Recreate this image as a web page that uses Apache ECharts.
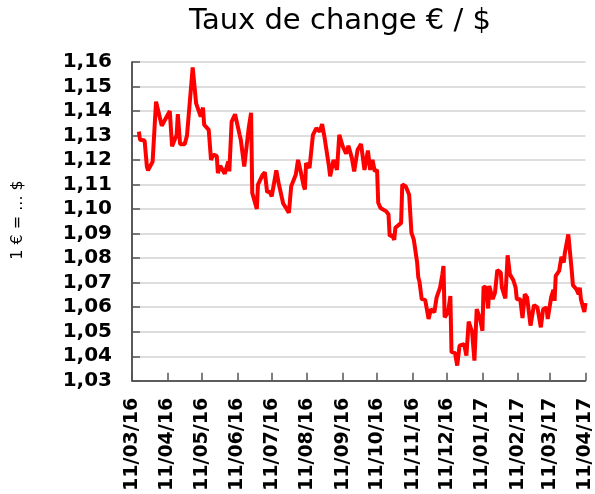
<!DOCTYPE html>
<html lang="fr">
<head>
    <meta charset="UTF-8">
    <title>Taux de change € / $</title>
    <script src="https://cdn.jsdelivr.net/npm/echarts@6.0.0/dist/echarts.min.js"></script>
    <style>
        html, body { margin: 0; padding: 0; background: #fff; }
        #chart { width: 595px; height: 494px; }
    </style>
</head>
<body>
<div id="chart"></div>
<script>
    // données
    var dates = [
        '2016-03-17', '2016-03-18', '2016-03-22', '2016-03-24', '2016-03-25', '2016-03-29', '2016-04-01', '2016-04-06',
        '2016-04-13', '2016-04-15', '2016-04-19', '2016-04-20', '2016-04-22', '2016-04-26', '2016-04-28', '2016-05-03',
        '2016-05-06', '2016-05-10', '2016-05-12', '2016-05-13', '2016-05-17', '2016-05-19', '2016-05-21', '2016-05-24',
        '2016-05-25', '2016-05-27', '2016-05-31', '2016-06-03', '2016-06-04', '2016-06-06', '2016-06-09', '2016-06-13',
        '2016-06-14', '2016-06-17', '2016-06-21', '2016-06-23', '2016-06-24', '2016-06-28', '2016-06-29', '2016-07-03',
        '2016-07-05', '2016-07-07', '2016-07-09', '2016-07-11', '2016-07-15', '2016-07-17', '2016-07-21', '2016-07-24',
        '2016-07-26', '2016-07-28', '2016-08-01', '2016-08-03', '2016-08-05', '2016-08-08', '2016-08-09', '2016-08-10',
        '2016-08-13', '2016-08-16', '2016-08-19', '2016-08-22', '2016-08-24', '2016-08-26', '2016-08-30', '2016-08-31',
        '2016-09-03', '2016-09-06', '2016-09-08', '2016-09-11', '2016-09-14', '2016-09-16', '2016-09-19', '2016-09-21',
        '2016-09-24', '2016-09-27', '2016-09-30', '2016-10-03', '2016-10-05', '2016-10-07', '2016-10-09', '2016-10-11',
        '2016-10-12', '2016-10-14', '2016-10-19', '2016-10-21', '2016-10-22', '2016-10-24', '2016-10-26', '2016-10-27',
        '2016-11-01', '2016-11-02', '2016-11-05', '2016-11-08', '2016-11-10', '2016-11-12', '2016-11-15', '2016-11-16',
        '2016-11-17', '2016-11-19', '2016-11-22', '2016-11-25', '2016-11-27', '2016-11-30', '2016-12-02', '2016-12-05',
        '2016-12-07', '2016-12-08', '2016-12-09', '2016-12-12', '2016-12-14', '2016-12-15', '2016-12-18', '2016-12-20',
        '2016-12-22', '2016-12-26', '2016-12-28', '2016-12-30', '2017-01-02', '2017-01-04', '2017-01-06', '2017-01-09',
        '2017-01-11', '2017-01-12', '2017-01-14', '2017-01-16', '2017-01-17', '2017-01-20', '2017-01-22', '2017-01-24',
        '2017-01-27', '2017-01-28', '2017-01-31', '2017-02-02', '2017-02-04', '2017-02-07', '2017-02-09', '2017-02-10',
        '2017-02-13', '2017-02-15', '2017-02-17', '2017-02-19', '2017-02-22', '2017-02-23', '2017-02-25', '2017-02-28',
        '2017-03-01', '2017-03-03', '2017-03-05', '2017-03-08', '2017-03-09', '2017-03-12', '2017-03-14', '2017-03-15',
        '2017-03-16', '2017-03-19', '2017-03-21', '2017-03-23', '2017-03-24', '2017-03-27', '2017-03-30', '2017-03-31',
        '2017-04-03', '2017-04-05', '2017-04-06', '2017-04-07', '2017-04-10', '2017-04-11'
    ];
    var rates = [
        1.1316, 1.1283, 1.1280, 1.1174, 1.1158, 1.1194, 1.1438, 1.1340,
        1.1400, 1.1256, 1.1303, 1.1387, 1.1265, 1.1265, 1.1299, 1.1578,
        1.1431, 1.1377, 1.1414, 1.1344, 1.1323, 1.1201, 1.1222, 1.1217,
        1.1147, 1.1177, 1.1144, 1.1194, 1.1154, 1.1357, 1.1387, 1.1303,
        1.1283, 1.1174, 1.1334, 1.1393, 1.1066, 1.1001, 1.1100, 1.1140,
        1.1150, 1.1069, 1.1073, 1.1052, 1.1158, 1.1107, 1.1023, 1.1001,
        1.0985, 1.1093, 1.1140, 1.1201, 1.1160, 1.1093, 1.1080, 1.1188,
        1.1168, 1.1303, 1.1330, 1.1316, 1.1347, 1.1296, 1.1174, 1.1134,
        1.1201, 1.1160, 1.1303, 1.1256, 1.1226, 1.1258, 1.1208, 1.1154,
        1.1242, 1.1266, 1.1160, 1.1239, 1.1160, 1.1201, 1.1154, 1.1160,
        1.1026, 1.1005, 1.0991, 1.0978, 1.0890, 1.0895, 1.0875, 1.0924,
        1.0944, 1.1100, 1.1093, 1.1059, 1.0904, 1.0877, 1.0782, 1.0721,
        1.0705, 1.0633, 1.0630, 1.0552, 1.0592, 1.0579, 1.0640, 1.0680,
        1.0734, 1.0768, 1.0559, 1.0579, 1.0646, 1.0417, 1.0414, 1.0362,
        1.0443, 1.0450, 1.0403, 1.0541, 1.0498, 1.0382, 1.0592, 1.0552,
        1.0504, 1.0684, 1.0680, 1.0595, 1.0687, 1.0633, 1.0660, 1.0752,
        1.0741, 1.0680, 1.0636, 1.0812, 1.0734, 1.0710, 1.0680, 1.0633,
        1.0633, 1.0556, 1.0653, 1.0640, 1.0525, 1.0520, 1.0609, 1.0599,
        1.0603, 1.0518, 1.0592, 1.0599, 1.0552, 1.0640, 1.0671, 1.0626,
        1.0728, 1.0748, 1.0806, 1.0782, 1.0823, 1.0897, 1.0748, 1.0690,
        1.0674, 1.0653, 1.0680, 1.0633, 1.0581, 1.0617
    ];
    // graduations de l'axe des dates (le 11 de chaque mois)
    var tickDates = [
        '2016-03-11', '2016-04-11', '2016-05-11', '2016-06-11', '2016-07-11', '2016-08-11', '2016-09-11',
        '2016-10-11', '2016-11-11', '2016-12-11', '2017-01-11', '2017-02-11', '2017-03-11', '2017-04-11'
    ];
    var yMin = 1.03, yMax = 1.16, yStep = 0.01;

    function toTime(s) {
        var p = s.split('-');
        return Date.UTC(+p[0], +p[1] - 1, +p[2]);
    }
    function pad(n) { return (n < 10 ? '0' : '') + n; }

    var tickTimes = tickDates.map(toTime);
    var seriesData = dates.map(function (d, i) { return [toTime(d), rates[i]]; });

    var chart = echarts.init(document.getElementById('chart'), null, {renderer: 'canvas'});
    chart.setOption({
        animation: false,
        backgroundColor: '#ffffff',
        textStyle: {fontFamily: 'DejaVu Sans'},
        title: {
            text: 'Taux de change € / $',
            left: 335,
            top: 2,
            textAlign: 'center',
            textStyle: {fontFamily: 'DejaVu Sans', fontSize: 29, fontWeight: 'normal', color: '#000'}
        },
        graphic: [{
            type: 'text',
            x: 18,
            y: 220,
            rotation: Math.PI / 2,
            style: {
                text: '1 € = ... $',
                fontFamily: 'DejaVu Sans',
                fontSize: 16,
                fill: '#000',
                align: 'center',
                verticalAlign: 'middle'
            }
        }],
        grid: {left: 132, right: 7, top: 62, bottom: 112},
        xAxis: {
            type: 'value',
            min: tickTimes[0],
            max: tickTimes[tickTimes.length - 1],
            axisLine: {show: true, lineStyle: {color: '#333', width: 1.5}},
            axisTick: {show: true, inside: true, length: 8, customValues: tickTimes, lineStyle: {color: '#555', width: 1.5}},
            axisLabel: {
                customValues: tickTimes,
                rotate: 90,
                margin: 17,
                fontFamily: 'DejaVu Sans',
                fontWeight: 'bold',
                fontSize: 19,
                color: '#000',
                formatter: function (v) {
                    var d = new Date(v);
                    return pad(d.getUTCDate()) + '/' + pad(d.getUTCMonth() + 1) + '/' + pad(d.getUTCFullYear() % 100);
                }
            },
            splitLine: {show: false}
        },
        yAxis: {
            type: 'value',
            min: yMin,
            max: yMax,
            interval: yStep,
            axisLine: {show: true, lineStyle: {color: '#222', width: 1.5}},
            axisTick: {show: true, inside: true, length: 8, lineStyle: {color: '#555', width: 1.5}},
            axisLabel: {
                margin: 20,
                fontFamily: 'DejaVu Sans',
                fontWeight: 'bold',
                fontSize: 20,
                color: '#000',
                formatter: function (v) { return v.toFixed(2).replace('.', ','); }
            },
            splitLine: {show: true, lineStyle: {color: '#d2d2d2', width: 1.5}}
        },
        series: [{
            name: '€ / $',
            type: 'line',
            data: seriesData,
            showSymbol: false,
            lineStyle: {color: '#ff0000', width: 4},
            itemStyle: {color: '#ff0000'}
        }]
    });
</script>
</body>
</html>
